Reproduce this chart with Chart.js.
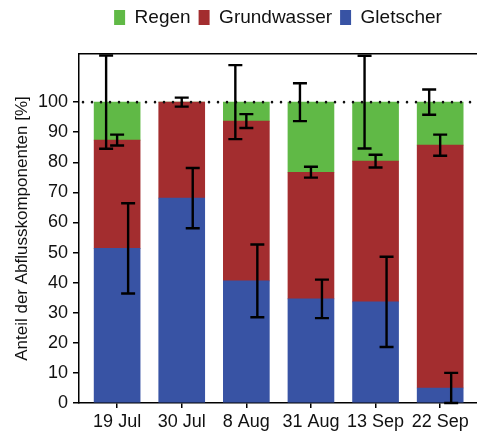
<!DOCTYPE html>
<html lang="de">
<head>
<meta charset="UTF-8">
<title>Abflusskomponenten</title>
<script src="https://cdn.jsdelivr.net/npm/chart.js@4.4.0/dist/chart.umd.min.js"></script>
<style>
  body { margin: 0; background: #fff; }
  #wrap { width: 477px; height: 432px; }
</style>
</head>
<body>
<div id="wrap"><canvas id="grafik" width="477" height="432"></canvas></div>
<script>
// Daten (Prozent)
const categories = ['19 Jul', '30 Jul', '8 Aug', '31 Aug', '13 Sep', '22 Sep'];
const gletscher = [51.4, 68.1, 40.6, 34.6, 33.6, 5.0];
const grundwasser = [36.0, 31.9, 53.1, 42.1, 46.8, 80.7];
const regen = [12.6, 0, 6.3, 23.3, 19.6, 14.3];
const gletscherErr = [15.0, 10.0, 12.1, 6.4, 15.0, 5.0];
const grundwasserErr = [1.8, 1.5, 2.3, 1.8, 2.1, 3.5];
const regenErr = [15.5, 0, 12.3, 6.3, 15.4, 4.2];
const yTicks = [0, 10, 20, 30, 40, 50, 60, 70, 80, 90, 100];
const refLine = 100;

const fontFam = "'Liberation Sans', Arial, sans-serif";

function pts(arr) {
  return arr.map(function (v, i) { return { x: i, y: v }; });
}

// Fehlerbalken + gepunktete 100%-Linie
const extras = {
  id: 'extras',
  afterDatasetsDraw: function (chart) {
    const ctx = chart.ctx;
    const ys = chart.scales.y;
    const area = chart.chartArea;

    // 100%-Linie
    ctx.save();
    ctx.strokeStyle = '#111';
    ctx.lineWidth = 2.6;
    ctx.lineCap = 'round';
    ctx.setLineDash([0, 9]);
    const py = ys.getPixelForValue(refLine);
    ctx.beginPath();
    ctx.moveTo(area.left + 4, py);
    ctx.lineTo(chart.width, py);
    ctx.stroke();
    ctx.restore();

    const errs = [gletscherErr, grundwasserErr, regenErr];
    const offs = [11, 0, -11];
    ctx.save();
    ctx.strokeStyle = '#000';
    ctx.lineWidth = 2.4;
    chart.data.datasets.forEach(function (ds, d) {
      const meta = chart.getDatasetMeta(d);
      meta.data.forEach(function (bar, j) {
        const e = errs[d][j];
        if (!e) return;
        let cum = 0;
        for (let k = 0; k <= d; k++) cum += chart.data.datasets[k].data[j].y;
        const x = bar.x + offs[d];
        const y1 = ys.getPixelForValue(cum + e);
        const y2 = ys.getPixelForValue(cum - e);
        ctx.beginPath();
        ctx.moveTo(x, y1); ctx.lineTo(x, y2);
        ctx.moveTo(x - 7, y1); ctx.lineTo(x + 7, y1);
        ctx.moveTo(x - 7, y2); ctx.lineTo(x + 7, y2);
        ctx.stroke();
      });
    });
    ctx.restore();
  }
};

new Chart(document.getElementById('grafik'), {
  type: 'bar',
  data: {
    datasets: [
      { label: 'Gletscher', data: pts(gletscher), backgroundColor: '#3853a4' },
      { label: 'Grundwasser', data: pts(grundwasser), backgroundColor: '#a32d2f' },
      { label: 'Regen', data: pts(regen), backgroundColor: '#60b946' }
    ]
  },
  options: {
    responsive: false,
    animation: false,
    barThickness: 46,
    layout: { padding: { left: 0, right: 0, top: 0, bottom: 0 } },
    plugins: {
      tooltip: { enabled: false },
      legend: {
        position: 'top',
        fullSize: false,
        reverse: true,
        labels: {
          boxWidth: 11,
          boxHeight: 15,
          padding: 8,
          color: '#111',
          font: { family: fontFam, size: 19 }
        }
      }
    },
    scales: {
      x: {
        type: 'linear',
        offset: false,
        min: -0.59,
        max: 5.57,
        stacked: true,
        afterFit: function (s) { s.height = 29; },
        afterBuildTicks: function (s) {
          s.ticks = categories.map(function (c, i) { return { value: i }; });
        },
        ticks: {
          autoSkip: false,
          maxRotation: 0,
          padding: 3,
          color: '#111',
          font: { family: fontFam, size: 18 },
          callback: function (v) { return categories[v]; }
        },
        grid: { offset: false, drawOnChartArea: false, tickLength: 5, color: '#000', lineWidth: 1.5 },
        border: { color: '#000', width: 1.5 }
      },
      xTop: {
        type: 'linear',
        position: 'top',
        offset: false,
        min: -0.59,
        max: 5.57,
        afterFit: function (s) { s.height = 17; },
        ticks: { display: false },
        grid: { display: false },
        border: { color: '#000', width: 1.5 }
      },
      y: {
        stacked: true,
        min: 0,
        max: 116,
        afterFit: function (s) { s.width = 79; },
        afterBuildTicks: function (s) {
          s.ticks = yTicks.map(function (v) { return { value: v }; });
        },
        ticks: {
          padding: 5,
          color: '#111',
          font: { family: fontFam, size: 18 }
        },
        grid: { drawOnChartArea: false, tickLength: 6, color: '#000', lineWidth: 1.5 },
        border: { color: '#000', width: 1.5 },
        title: {
          display: true,
          text: 'Anteil der Abflusskomponenten [%]',
          color: '#111',
          padding: { top: 12, bottom: 0 },
          font: { family: fontFam, size: 17 }
        }
      }
    }
  },
  plugins: [extras]
});
</script>
</body>
</html>
